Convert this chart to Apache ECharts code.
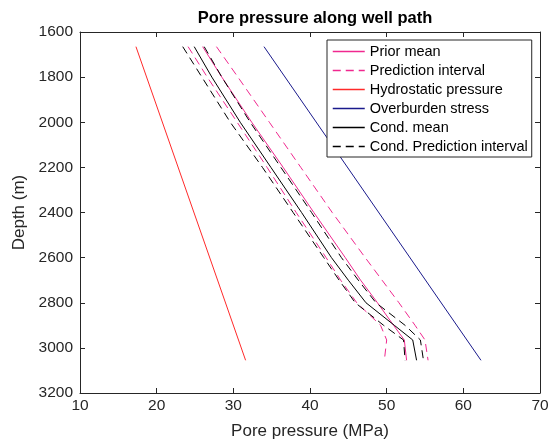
<!DOCTYPE html>
<html>
<head>
<meta charset="utf-8">
<script src="https://cdn.jsdelivr.net/npm/echarts@6/dist/echarts.min.js"></script>
<style>html,body{margin:0;padding:0;background:#fff}#c{width:549px;height:439px}</style>
</head>
<body>
<div id="c"></div>
<script>
// Depth samples (m) shared by the pore-pressure curves
const depths = [1665, 1800, 2000, 2200, 2400, 2600, 2700, 2800, 2900, 2965, 3055];
// Pressures (MPa)
const priorMean  = [26.0, 28.5, 32.4, 36.5, 40.5, 44.6, 46.6, 48.8, 50.9, 52.3, 52.6];
const priorLower = [24.1, 26.6, 30.5, 34.4, 38.2, 42.1, 44.0, 46.1, 49.2, 50.0, 49.7];
const priorUpper = [27.8, 30.6, 34.7, 38.8, 42.9, 47.2, 49.4, 51.6, 53.7, 55.0, 55.4];
const condMean   = [24.9, 27.2, 30.9, 34.9, 38.9, 42.8, 45.0, 47.3, 51.0, 53.4, 53.9];
const condLower  = [23.4, 25.9, 29.6, 33.8, 37.8, 41.8, 43.8, 45.9, 49.6, 52.2, 52.4];
const condUpper  = [26.2, 28.5, 32.2, 36.2, 40.2, 44.1, 46.3, 48.6, 52.4, 54.4, 54.8];
const lineDepths = [1665, 3055];
const hydrostatic = [17.3, 31.6];
const overburden  = [34.0, 62.3];
const xTicks = [10, 20, 30, 40, 50, 60, 70];
const yTicks = [1600, 1800, 2000, 2200, 2400, 2600, 2800, 3000, 3200];

const pair = (xs, ds) => xs.map((v, i) => [v, ds[i]]);
const PINK = '#f0288f', RED = '#ff2a2a', NAVY = '#1a1a8c', BLACK = '#000000';
const dash = [8, 5];
const font = 'Liberation Sans, Arial, Helvetica, sans-serif';

function mk(name, xs, ds, color, type) {
  return {
    name, type: 'line', data: pair(xs, ds), symbol: 'none', silent: true,
    lineStyle: { color, width: 1, type: type || 'solid' },
    itemStyle: { color }, animation: false
  };
}

const series = [
  mk('Prior mean', priorMean, depths, PINK),
  mk('Prediction interval', priorLower, depths, PINK, dash),
  mk('Prediction interval', priorUpper, depths, PINK, dash),
  mk('Hydrostatic pressure', hydrostatic, lineDepths, RED),
  mk('Overburden stress', overburden, lineDepths, NAVY),
  mk('Cond. mean', condMean, depths, BLACK),
  mk('Cond. Prediction interval', condLower, depths, BLACK, dash),
  mk('Cond. Prediction interval', condUpper, depths, BLACK, dash)
];

const chart = echarts.init(document.getElementById('c'), null, { renderer: 'canvas' });
const axisCommon = {
  axisLine: { show: true, lineStyle: { color: '#262626', width: 1 } },
  axisTick: { show: true, inside: true, length: 5, lineStyle: { color: '#262626' } },
  splitLine: { show: false }
};
chart.setOption({
  animation: false,
  backgroundColor: '#fff',
  textStyle: { fontFamily: font },
  title: {
    text: 'Pore pressure along well path', left: 310, top: 5, textAlign: 'center',
    textStyle: { fontSize: 16.5, fontWeight: 'bold', color: '#000', fontFamily: font }
  },
  grid: { left: 80, right: 9, top: 32, bottom: 46, containLabel: false, outerBoundsMode: 'none' },
  legend: {
    data: ['Prior mean', 'Prediction interval', 'Hydrostatic pressure', 'Overburden stress', 'Cond. mean', 'Cond. Prediction interval'],
    orient: 'vertical', left: 327, top: 40,
    backgroundColor: '#fff', borderColor: '#262626', borderWidth: 1, borderRadius: 0,
    padding: [4, 4, 3, 5], itemGap: 4, itemWidth: 32, itemHeight: 14,
    itemStyle: { opacity: 0 },
    lineStyle: { width: 1.5 },
    textStyle: { fontSize: 14.5, color: '#000', fontFamily: font },
    selectedMode: false
  },
  xAxis: [
    Object.assign({
      type: 'value', min: 10, max: 70, interval: 10, position: 'bottom',
      name: 'Pore pressure (MPa)', nameLocation: 'middle', nameGap: 30,
      nameTextStyle: { fontSize: 17, color: '#262626', fontFamily: font },
      axisLabel: { fontSize: 15.5, color: '#262626', margin: 5, fontFamily: font }
    }, axisCommon),
    Object.assign({
      type: 'value', min: 10, max: 70, interval: 10, position: 'top',
      axisLabel: { show: false }
    }, axisCommon)
  ],
  yAxis: [
    Object.assign({
      type: 'value', min: 1600, max: 3200, interval: 200, inverse: true, position: 'left',
      name: 'Depth (m)', nameLocation: 'middle', nameGap: 46, nameRotate: 90,
      nameTextStyle: { fontSize: 17, color: '#262626', fontFamily: font },
      axisLabel: { fontSize: 15.5, color: '#262626', margin: 7, fontFamily: font,
        formatter: v => String(v) }
    }, axisCommon),
    Object.assign({
      type: 'value', min: 1600, max: 3200, interval: 200, inverse: true, position: 'right',
      axisLabel: { show: false }
    }, axisCommon)
  ],
  series
});
</script>
</body>
</html>
